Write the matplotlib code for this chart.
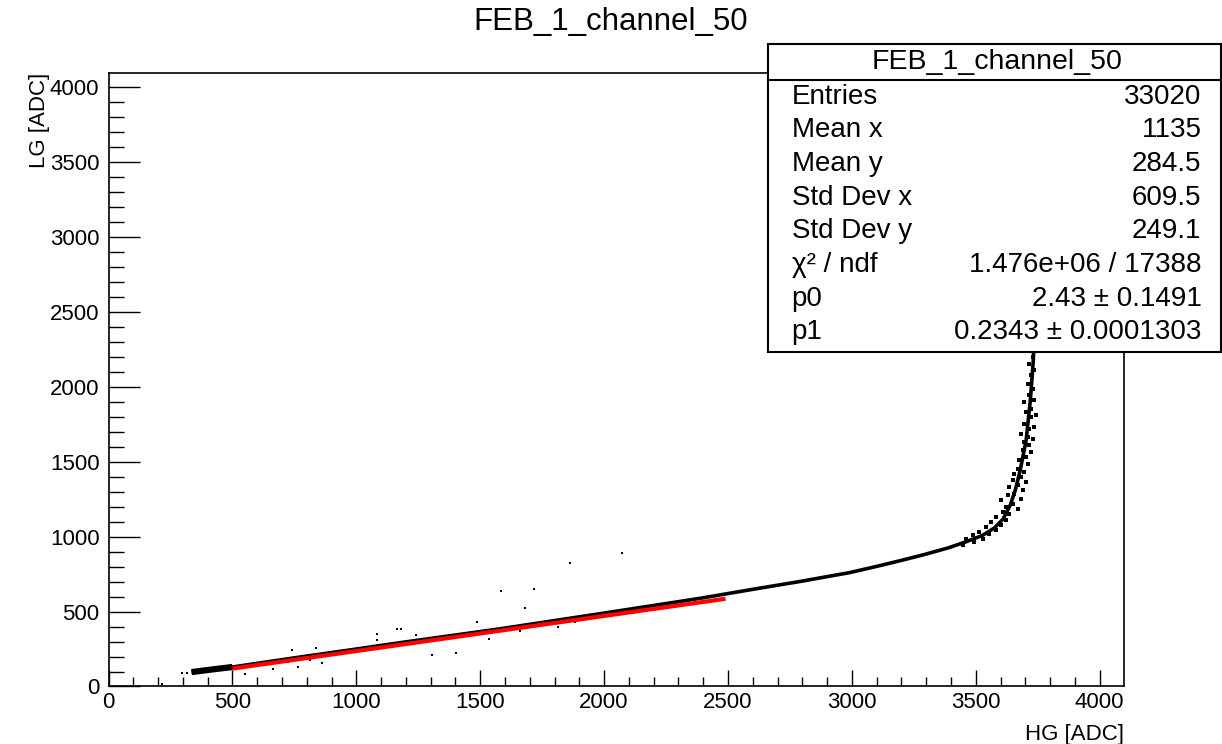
import numpy as np
import matplotlib
matplotlib.use("Agg")
import matplotlib.pyplot as plt
from matplotlib.ticker import MultipleLocator

plt.rcParams['font.family'] = ['Liberation Sans', 'DejaVu Sans']

# ridge of the HG vs LG band (centre of the dense black band)
ridge_hg = [335, 400, 500, 770, 1000, 1175, 1580, 1980, 2385, 2590, 2790, 2990,
            3090, 3190, 3290, 3390, 3460, 3526, 3575, 3610, 3640, 3660, 3679,
            3703, 3720, 3732, 3737]
ridge_lg = [96, 110, 130, 196, 250, 292, 385, 485, 588, 646, 701, 760,
            798, 838, 880, 926, 966, 1008, 1058, 1118, 1215, 1315, 1443,
            1643, 1910, 2177, 2400]

# sparse entries around the saturation knee
knee_hg = [3729, 3716, 3736, 3723, 3709, 3729, 3716, 3696, 3736, 3723, 3702, 3723,
           3743, 3696, 3716, 3736, 3682, 3709, 3729, 3696, 3716, 3689, 3723, 3702,
           3675, 3709, 3669, 3696, 3655, 3682, 3649, 3702, 3669, 3635, 3689, 3655,
           3628, 3682, 3601, 3649, 3622, 3669, 3608, 3635, 3581, 3622, 3561, 3601,
           3541, 3581, 3514, 3554, 3487, 3528, 3460, 3494, 3447]
knee_lg = [2199, 2154, 2110, 2077, 2021, 1988, 1943, 1899, 1910, 1854, 1832, 1799,
           1810, 1754, 1721, 1732, 1688, 1666, 1654, 1632, 1610, 1577, 1566, 1532,
           1510, 1488, 1454, 1432, 1421, 1399, 1377, 1366, 1343, 1332, 1310, 1288,
           1277, 1254, 1243, 1221, 1199, 1188, 1166, 1154, 1132, 1110, 1099, 1077,
           1066, 1043, 1032, 1021, 1010, 988, 988, 966, 943]

# isolated entries off the band
out_hg = [1861, 2072, 1583, 1717, 1679, 1489, 1536, 1307, 1401, 1182, 1240, 1814,
          1659, 1881, 295, 318, 214, 550, 665, 739, 765, 839, 815, 863, 1084, 1165,
          1085, 725]
out_lg = [825, 888, 637, 652, 525, 432, 319, 208, 223, 381, 343, 397,
          370, 430, 92, 88, 17, 81, 115, 243, 132, 255, 177, 155, 350, 381,
          310, 165]

# linear fit
p0, p1 = 2.43, 0.2343
fit_range = [500, 2490]

stats_title = "FEB_1_channel_50"
stats_names = ["Entries", "Mean x", "Mean y", "Std Dev x", "Std Dev y",
               "χ² / ndf", "p0", "p1"]
stats_values = ["33020", "1135", "284.5", "609.5", "249.1",
                "1.476e+06 / 17388", "2.43 ± 0.1491", "0.2343 ± 0.0001303"]

fig = plt.figure(figsize=(12.22, 7.44), dpi=100)
ax = fig.add_axes([0.0888, 0.0773, 0.8306, 0.8246])

ax.plot(ridge_hg, ridge_lg, color='black', lw=2.6, solid_capstyle='butt',
        solid_joinstyle='round', zorder=2)
ax.plot(ridge_hg[:3], ridge_lg[:3], color='black', lw=4.5, solid_capstyle='butt', zorder=2)
ax.plot(knee_hg, knee_lg, 's', color='black', ms=2.2, mew=0, zorder=2)
ax.plot(out_hg, out_lg, 's', color='black', ms=2.0, mew=0, zorder=2)

fx = np.array(fit_range)
ax.plot(fx, p0 + p1 * fx, color='#ff0000', lw=3.0, solid_capstyle='butt', zorder=3)

ax.set_xlim(0, 4096)
ax.set_ylim(0, 4096)
ax.xaxis.set_major_locator(MultipleLocator(500))
ax.xaxis.set_minor_locator(MultipleLocator(100))
ax.yaxis.set_major_locator(MultipleLocator(500))
ax.yaxis.set_minor_locator(MultipleLocator(100))
ax.tick_params(axis='both', which='both', direction='in', top=False, right=False,
               labelsize=16, width=1.0)
ax.tick_params(axis='x', which='major', length=11.5, pad=4)
ax.tick_params(axis='x', which='minor', length=6.7)
ax.tick_params(axis='y', which='major', length=22, pad=6.5)
ax.tick_params(axis='y', which='minor', length=11)
for s in ax.spines.values():
    s.set_linewidth(1.2)

ax.set_xlabel("HG [ADC]", fontsize=16, loc='right', labelpad=8)
ax.set_ylabel("LG [ADC]", fontsize=16, loc='top', labelpad=0)

fig.text(0.5, 0.97, "FEB_1_channel_50", ha='center', va='center', fontsize=22.5)

# stats box
sb = fig.add_axes([0.6285, 0.5269, 0.3707, 0.414])
sb.set_xticks([])
sb.set_yticks([])
sb.set_xlim(0, 1)
sb.set_ylim(0, 1)
for s in sb.spines.values():
    s.set_linewidth(1.5)
sb.axhline(0.883, color='black', lw=1.5)
sb.text(0.505, 0.9416, stats_title, ha='center', va='center', fontsize=20.5)
for i, (n, v) in enumerate(zip(stats_names, stats_values)):
    yy = 0.829 - i * 0.1093
    sb.text(0.052, yy, n, ha='left', va='center', fontsize=20)
    sb.text(0.957, yy, v, ha='right', va='center', fontsize=20)

fig.savefig("out.png", dpi=100)
